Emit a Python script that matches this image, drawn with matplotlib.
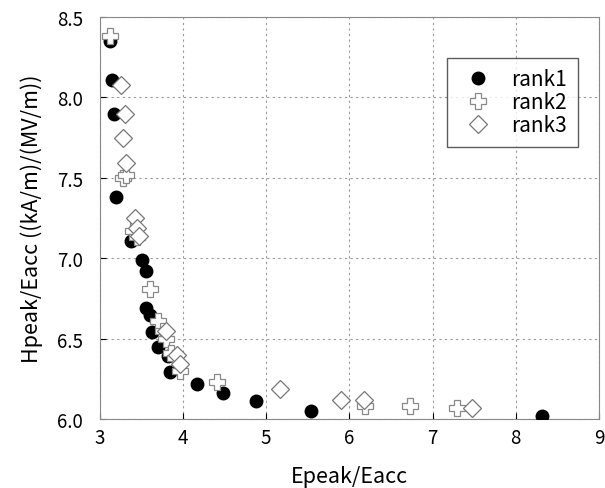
import matplotlib
matplotlib.use("Agg")
import matplotlib.pyplot as plt

plt.rcParams['font.family'] = ['Noto Sans CJK JP', 'DejaVu Sans']

# rank1 (filled circles)
r1_x = [3.12, 3.15, 3.17, 3.20, 3.38, 3.51, 3.56, 3.56, 3.60, 3.63, 3.70, 3.82, 3.84,
        4.17, 4.48, 4.88, 5.54, 8.32]
r1_y = [8.35, 8.11, 7.90, 7.38, 7.11, 6.99, 6.92, 6.69, 6.65, 6.54, 6.45, 6.39, 6.29,
        6.22, 6.16, 6.11, 6.05, 6.02]

# rank2 (open crosses)
r2_x = [3.12, 3.28, 3.31, 3.40, 3.45, 3.60, 3.70, 3.76, 3.80, 3.86, 3.90, 3.96,
        4.41, 6.19, 6.73, 7.29]
r2_y = [8.38, 7.50, 7.52, 7.17, 7.13, 6.81, 6.61, 6.55, 6.50, 6.41, 6.38, 6.30,
        6.23, 6.08, 6.08, 6.07]

# rank3 (open diamonds)
r3_x = [3.25, 3.30, 3.28, 3.32, 3.42, 3.45, 3.47, 3.80, 3.93, 3.96, 5.17, 5.90, 6.18, 7.47]
r3_y = [8.08, 7.90, 7.75, 7.59, 7.25, 7.19, 7.14, 6.55, 6.40, 6.34, 6.19, 6.12, 6.12, 6.07]

fig = plt.figure(figsize=(6.05, 4.89), dpi=100)
ax = fig.add_axes([0.165, 0.141, 0.825, 0.822])

ax.plot(r1_x, r1_y, linestyle="none", marker="o", markersize=9,
        color="black", label="rank1", zorder=3)
ax.plot(r2_x, r2_y, linestyle="none", marker="P", markersize=12,
        markerfacecolor="white", markeredgecolor="#888888", markeredgewidth=0.9,
        label="rank2", zorder=4)
ax.plot(r3_x, r3_y, linestyle="none", marker="D", markersize=9,
        markerfacecolor="white", markeredgecolor="#777777", markeredgewidth=0.9,
        label="rank3", zorder=5)

ax.set_xlim(3, 9)
ax.set_ylim(6.0, 8.5)
ax.set_xticks([3, 4, 5, 6, 7, 8, 9])
ax.set_yticks([6.0, 6.5, 7.0, 7.5, 8.0, 8.5])
ax.set_yticklabels(["6.0", "6.5", "7.0", "7.5", "8.0", "8.5"])
ax.tick_params(direction="in", labelsize=13.5, length=4)
ax.tick_params(axis="y", pad=12)
ax.tick_params(axis="x", pad=6)
ax.grid(True, linestyle=(0, (2, 3)), color="#999999", linewidth=0.8)

for s in ax.spines.values():
    s.set_color("#888888")

ax.set_xlabel("Epeak/Eacc", fontsize=15.5, labelpad=12)
ax.set_ylabel("Hpeak/Eacc ((kA/m)/(MV/m))", fontsize=15.5, labelpad=10)

leg = ax.legend(loc="upper right", bbox_to_anchor=(0.978, 0.925), fontsize=15,
                frameon=True, fancybox=False, handletextpad=0.6,
                borderpad=0.5, labelspacing=0.05)
leg.get_frame().set_edgecolor("#333333")
leg.get_frame().set_linewidth(1.0)

fig.savefig("out.png", dpi=100)
